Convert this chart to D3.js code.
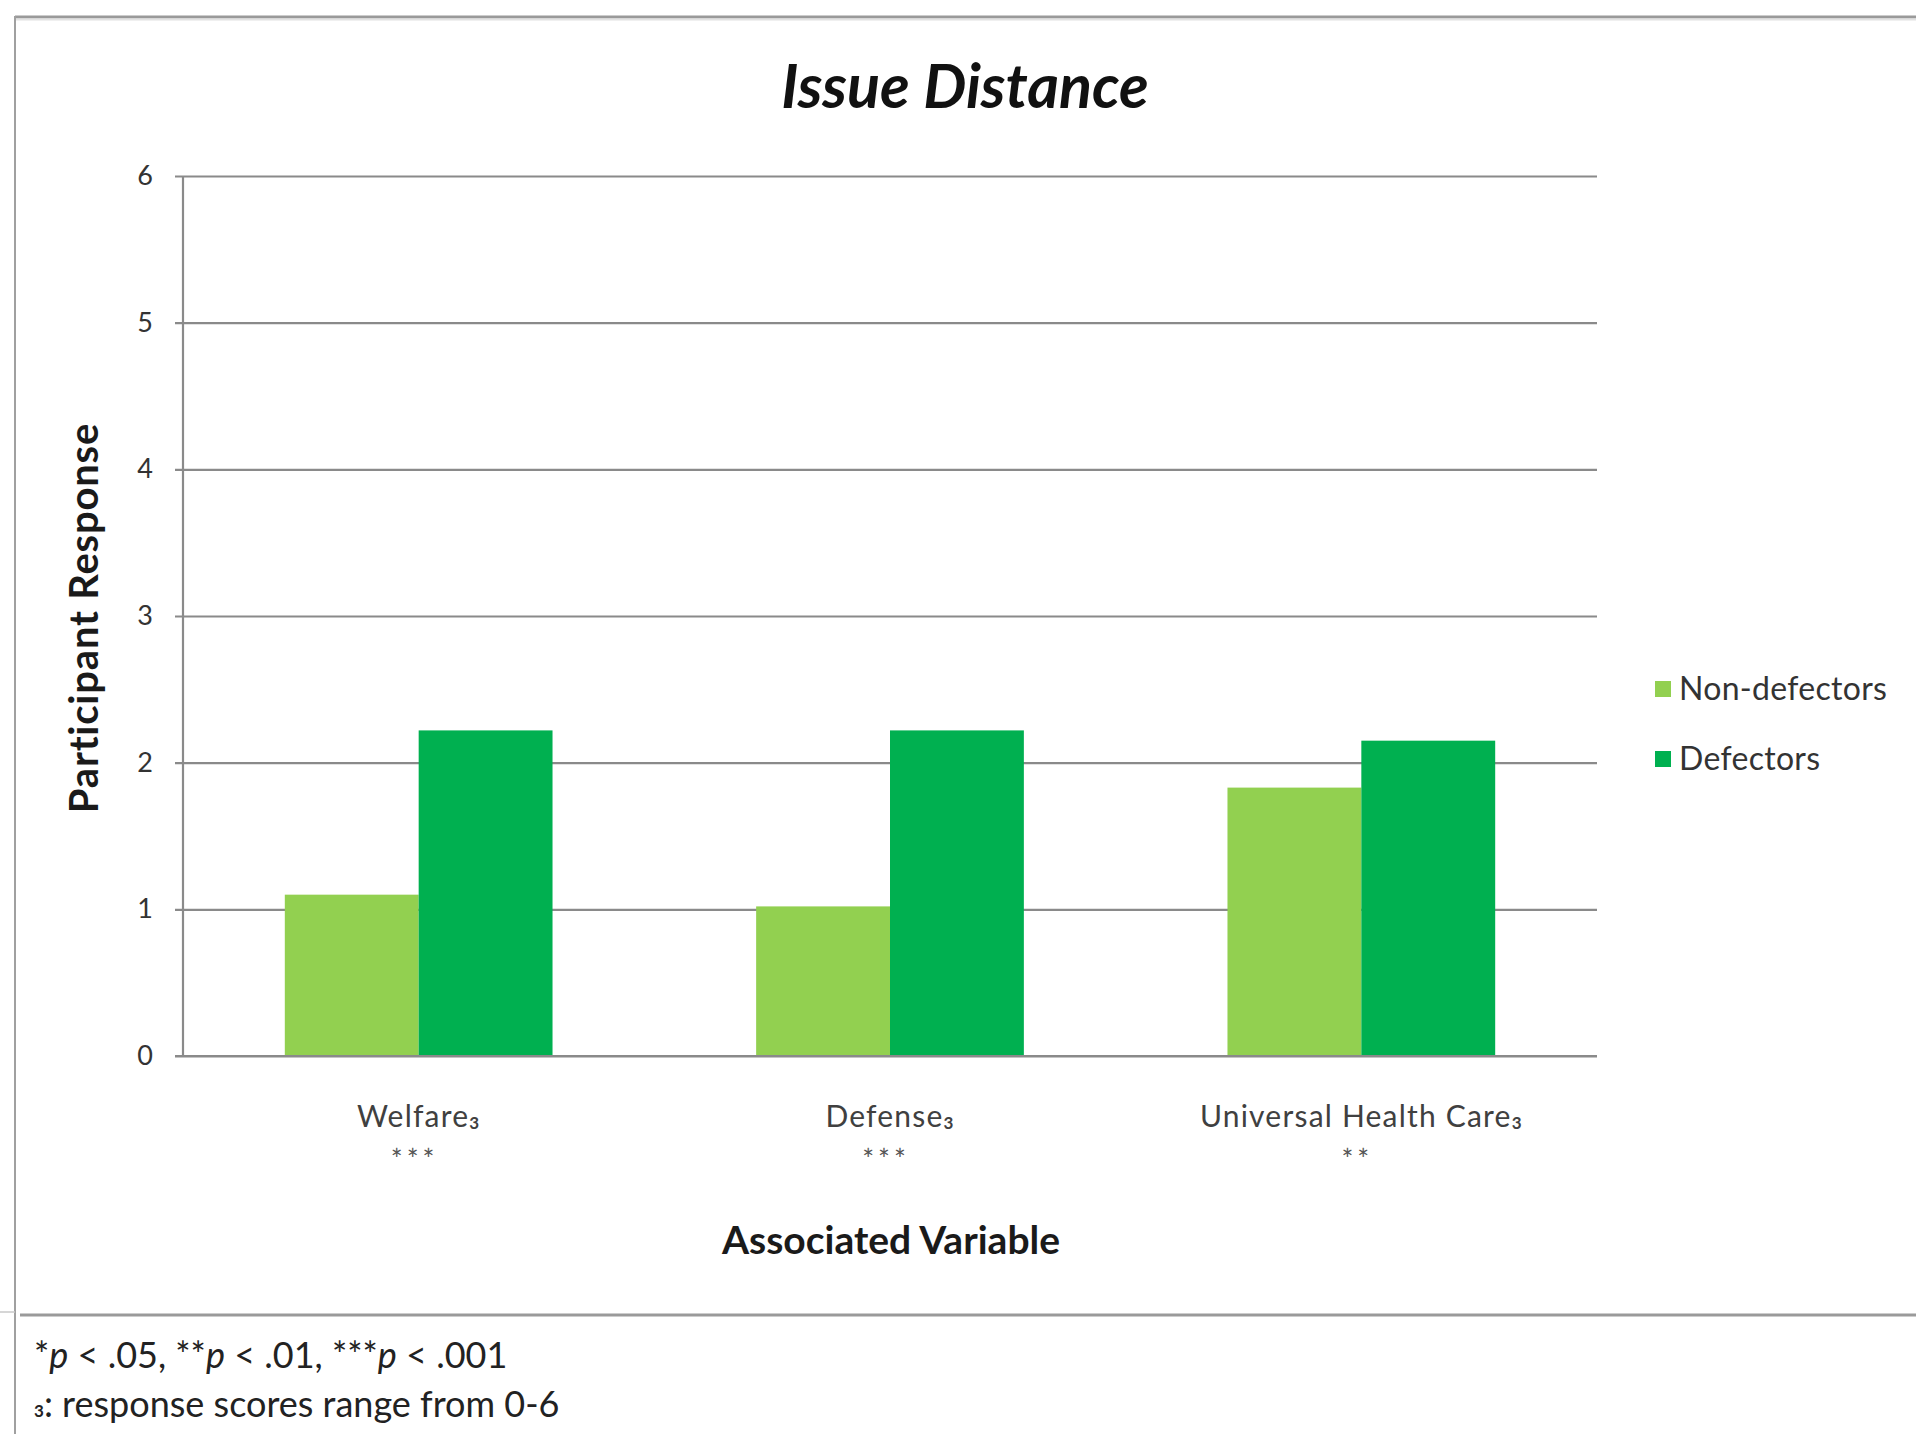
<!DOCTYPE html>
<html>
<head>
<meta charset="utf-8">
<script src="https://cdn.jsdelivr.net/npm/d3@7"></script>
<style>
  html, body { margin: 0; padding: 0; background: #fff; }
  svg { display: block; }
  text { font-family: Lato, "Open Sans", sans-serif; }
</style>
</head>
<body>
<svg id="chart" width="1916" height="1434"></svg>
<script>
// Issue distance: mean participant response per associated variable
const categories = ["Welfare", "Defense", "Universal Health Care"];
const significance = ["***", "***", "**"];
const seriesNames = ["Non-defectors", "Defectors"];
const nonDefectors = [1.10, 1.02, 1.83];
const defectors = [2.22, 2.22, 2.15];
const yTicks = [0, 1, 2, 3, 4, 5, 6];
const seriesColors = ["#92D050", "#00B050"];

const svg = d3.select("#chart");
const W = 1916, H = 1434;
const plot = { left: 183, right: 1597, top: 176, bottom: 1056 };

// frame lines of the chart area and the note strip below it
svg.append("line").attr("x1", 15).attr("x2", W).attr("y1", 17).attr("y2", 17)
  .attr("stroke", "#9a9a9a").attr("stroke-width", 3);
svg.append("line").attr("x1", 15).attr("x2", W).attr("y1", 19.5).attr("y2", 19.5)
  .attr("stroke", "#e2e2e2").attr("stroke-width", 2);
svg.append("line").attr("x1", 15).attr("x2", 15).attr("y1", 16).attr("y2", H)
  .attr("stroke", "#a0a0a0").attr("stroke-width", 2);
svg.append("line").attr("x1", 0).attr("x2", 15).attr("y1", 1312).attr("y2", 1312)
  .attr("stroke", "#c8c8c8").attr("stroke-width", 1.5);
svg.append("line").attr("x1", 20).attr("x2", W).attr("y1", 1315).attr("y2", 1315)
  .attr("stroke", "#9a9a9a").attr("stroke-width", 3);

const y = d3.scaleLinear().domain([0, 6]).range([plot.bottom, plot.top]);
const x0 = d3.scaleBand().domain(categories).range([plot.left, plot.right])
  .paddingInner(0.432).paddingOuter(0.216);
const x1 = d3.scaleBand().domain(seriesNames).range([0, x0.bandwidth()]);

// horizontal gridlines with short ticks to the left of the axis
const yAxis = d3.axisLeft(y).tickValues(yTicks).tickFormat(d3.format("d"))
  .tickSize(-(plot.right - plot.left + 8)).tickPadding(22);
const gy = svg.append("g").attr("transform", `translate(${plot.left - 8},0)`).call(yAxis);
gy.select(".domain").remove();
gy.selectAll(".tick line").attr("stroke", "#8a8a8a").attr("stroke-width", 2.2);
gy.selectAll(".tick text").attr("fill", "#333").attr("font-size", 27)
  .attr("font-family", "Lato, sans-serif");

// vertical axis line
svg.append("line").attr("x1", plot.left).attr("x2", plot.left)
  .attr("y1", plot.top).attr("y2", plot.bottom)
  .attr("stroke", "#8a8a8a").attr("stroke-width", 2.2);

// grouped bars
const rows = categories.map((c, i) => ({ cat: c, values: [nonDefectors[i], defectors[i]] }));
const groups = svg.append("g").selectAll("g").data(rows).join("g")
  .attr("transform", d => `translate(${x0(d.cat)},0)`);
groups.selectAll("rect").data(d => d.values.map((v, k) => ({ name: seriesNames[k], v, k })))
  .join("rect")
  .attr("x", d => x1(d.name))
  .attr("width", x1.bandwidth())
  .attr("y", d => y(d.v))
  .attr("height", d => y(0) - y(d.v))
  .attr("fill", d => seriesColors[d.k]);

// baseline redrawn over the bars
svg.append("line").attr("x1", plot.left - 8).attr("x2", plot.right)
  .attr("y1", y(0)).attr("y2", y(0)).attr("stroke", "#8a8a8a").attr("stroke-width", 2.2);

// category labels with subscript mark and significance stars
categories.forEach((c, i) => {
  const cx = x0(c) + x0.bandwidth() / 2;
  const t = svg.append("text").attr("x", cx).attr("y", 1127)
    .attr("text-anchor", "middle").attr("fill", "#404040").attr("font-size", 30)
    .attr("letter-spacing", 1.2);
  t.append("tspan").text(c);
  t.append("tspan").text("3").attr("font-size", 17).attr("font-weight", "bold").attr("dy", 2);
  svg.append("text").attr("x", cx - 4).attr("y", 1170)
    .attr("text-anchor", "middle").attr("fill", "#555").attr("font-size", 28)
    .attr("letter-spacing", 4).text(significance[i]);
});

// title
svg.append("text").attr("x", 965).attr("y", 108).attr("text-anchor", "middle")
  .attr("font-size", 61).attr("font-weight", "bold").attr("font-style", "italic")
  .attr("fill", "#111").text("Issue Distance");

// axis titles
svg.append("text").attr("x", 891).attr("y", 1254).attr("text-anchor", "middle")
  .attr("font-size", 39).attr("font-weight", "bold").attr("fill", "#1a1a1a")
  .text("Associated Variable");
svg.append("text").attr("transform", "translate(98,618) rotate(-90)")
  .attr("text-anchor", "middle").attr("font-size", 40).attr("font-weight", "bold")
  .attr("letter-spacing", 0.8).attr("fill", "#1a1a1a").text("Participant Response");

// legend
const legend = svg.append("g").selectAll("g").data(seriesNames).join("g")
  .attr("transform", (d, i) => `translate(1655,${689 + i * 70})`);
legend.append("rect").attr("x", 0).attr("y", -8).attr("width", 16).attr("height", 16)
  .attr("fill", (d, i) => seriesColors[i]);
legend.append("text").attr("x", 24).attr("y", 11).attr("font-size", 32)
  .attr("letter-spacing", 0.3).attr("fill", "#333").text(d => d);

// notes below the chart
const n1 = svg.append("text").attr("x", 34).attr("y", 1368).attr("font-size", 36).attr("fill", "#222");
[["*", false], ["p", true], [" < .05, **", false], ["p", true], [" < .01, ***", false], ["p", true], [" < .001", false]]
  .forEach(([s, it]) => n1.append("tspan").text(s).attr("font-style", it ? "italic" : "normal"));
const n2 = svg.append("text").attr("x", 34).attr("y", 1417).attr("font-size", 36).attr("fill", "#222");
n2.append("tspan").text("3").attr("font-size", 17).attr("font-weight", "bold");
n2.append("tspan").text(": response scores range from 0-6");
</script>
</body>
</html>
